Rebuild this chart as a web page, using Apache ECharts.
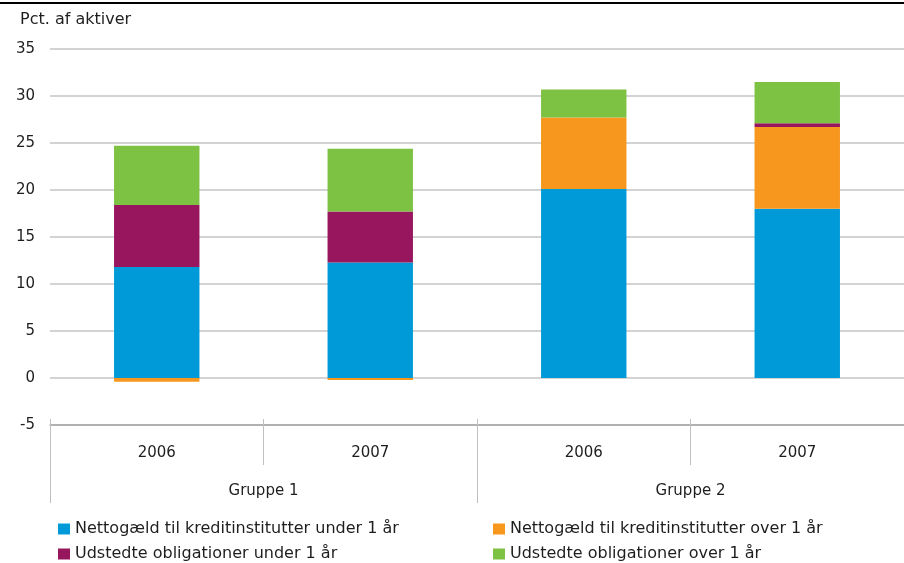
<!DOCTYPE html>
<html>
<head>
<meta charset="utf-8">
<script src="https://cdn.jsdelivr.net/npm/echarts@6/dist/echarts.min.js"></script>
<style>
  html, body { margin: 0; padding: 0; background: #fff; }
  #chart { width: 904px; height: 563px; }
</style>
</head>
<body>
<div id="chart"></div>
<script>
// kategorier og grupper
var years = ['2006', '2007', '2006', '2007'];
var groups = ['Gruppe 1', 'Gruppe 2'];

// serier (pct. af aktiver)
var nettoUnder = [11.8, 12.3, 20.1, 18.0];
var nettoOver = [-0.4, -0.2, 7.6, 8.7];
var obligUnder = [6.6, 5.4, 0, 0.4];
var obligOver = [6.3, 6.7, 3.0, 4.4];

var yTicks = [-5, 35, 5]; // min, max, interval

var font = 'DejaVu Sans';
var txt = '#1e1e1e';
var tickColor = '#c0c0c0';

var chart = echarts.init(document.getElementById('chart'));

function bar(name, data, color) {
    return {
        name: name,
        type: 'bar',
        stack: 'a',
        barWidth: '40%',
        data: data,
        itemStyle: { color: color }
    };
}

var legendText = { fontFamily: font, fontSize: 16, color: txt };

chart.setOption({
    animation: false,
    textStyle: { fontFamily: font },
    graphic: [{
        type: 'rect',
        shape: { x: 0, y: 2, width: 904, height: 2 },
        style: { fill: '#000' }
    }, {
        type: 'text',
        left: 20, top: 12,
        style: { text: 'Pct. af aktiver', font: '16px "' + font + '"', fill: txt }
    }],
    grid: { left: 50, right: 0, top: 49, bottom: 138, containLabel: false },
    legend: [{
        left: 53, top: 516, height: 80,
        orient: 'vertical',
        itemWidth: 12, itemHeight: 11, itemGap: 9,
        icon: 'rect',
        textStyle: legendText,
        data: ['Nettogæld til kreditinstitutter under 1 år', 'Udstedte obligationer under 1 år']
    }, {
        left: 488, top: 516, height: 80,
        orient: 'vertical',
        itemWidth: 12, itemHeight: 11, itemGap: 9,
        icon: 'rect',
        textStyle: legendText,
        data: ['Nettogæld til kreditinstitutter over 1 år', 'Udstedte obligationer over 1 år']
    }],
    xAxis: [{
        type: 'category',
        data: years,
        axisLine: { onZero: false, lineStyle: { color: '#a6a6a6', width: 1.5 } },
        axisTick: { show: true, interval: 0, length: 40, lineStyle: { color: tickColor } },
        axisLabel: { interval: 0, margin: 21, fontSize: 15, color: txt, fontFamily: font }
    }, {
        type: 'category',
        position: 'bottom',
        offset: 40,
        data: groups,
        axisLine: { show: false, onZero: false },
        axisTick: { show: true, interval: 0, length: 38, lineStyle: { color: tickColor } },
        axisLabel: { interval: 0, margin: 19, fontSize: 15, color: txt, fontFamily: font }
    }, {
        // korte streger over aksen
        type: 'category',
        position: 'bottom',
        offset: -6,
        data: years,
        axisLine: { show: false, onZero: false },
        axisTick: { show: true, interval: 0, length: 6, lineStyle: { color: tickColor } },
        axisLabel: { show: false }
    }],
    yAxis: {
        type: 'value',
        min: yTicks[0], max: yTicks[1], interval: yTicks[2],
        axisLine: { show: false },
        axisTick: { show: false },
        axisLabel: { margin: 15, fontSize: 15, color: txt, fontFamily: font },
        splitLine: { lineStyle: { color: '#c4c4c4', width: 1.5 } }
    },
    series: [
        bar('Nettogæld til kreditinstitutter under 1 år', nettoUnder, '#009ad8'),
        bar('Nettogæld til kreditinstitutter over 1 år', nettoOver, '#f7971d'),
        bar('Udstedte obligationer under 1 år', obligUnder, '#98165e'),
        bar('Udstedte obligationer over 1 år', obligOver, '#7dc243')
    ]
});
</script>
</body>
</html>
